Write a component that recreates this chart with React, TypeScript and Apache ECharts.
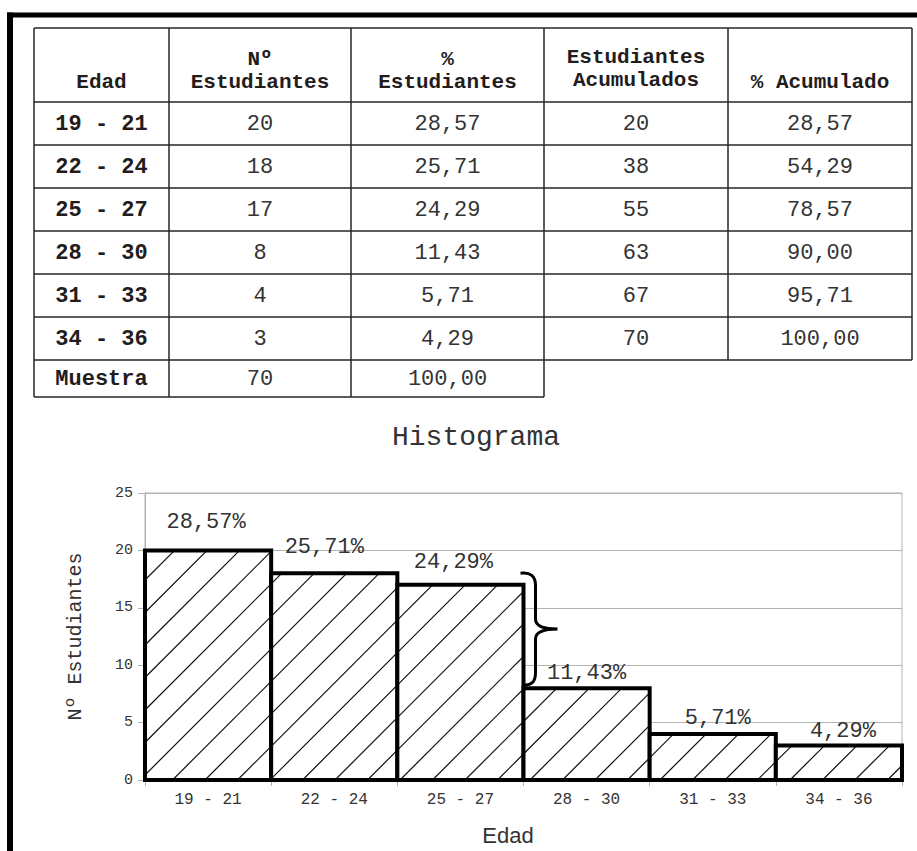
import React, { useEffect, useRef } from 'react';
import * as echarts from 'echarts';

// ---------- data ----------
const ranges = ['19 - 21', '22 - 24', '25 - 27', '28 - 30', '31 - 33', '34 - 36'];
const counts = [20, 18, 17, 8, 4, 3];
const pcts = [28.57, 25.71, 24.29, 11.43, 5.71, 4.29];
const cumCounts = [20, 38, 55, 63, 67, 70];
const cumPcts = [28.57, 54.29, 78.57, 90.0, 95.71, 100.0];
const sampleLabel = 'Muestra';
const sampleTotal = 70;
const sampleTotalPct = 100.0;
const headers = [['Edad'], ['Nº', 'Estudiantes'], ['%', 'Estudiantes'], ['Estudiantes', 'Acumulados'], ['% Acumulado']];
const braceSpan = [18, 8.3]; // value range covered by the brace annotation
const braceAfterIndex = 2;

// ---------- layout constants ----------
const W = 917;
const H = 851;
const MONO = '"Liberation Mono", "DejaVu Sans Mono", monospace';
const SANS = '"Liberation Sans", Arial, sans-serif';
const colX = [34, 169, 351, 544, 728, 912];
const rowY = [28, 102, 145, 188, 231, 274, 317, 360, 397];
const labelNudge = [
  [-2, 28],
  [-10, 26],
  [-7, 22],
  [0, 15],
  [5, 16],
  [4, 14],
];

const fmt = (v: number) => v.toFixed(2).replace('.', ',');

function buildTable(): any[] {
  const els: any[] = [];
  const lineStyle = { stroke: '#262626', lineWidth: 1.5 };
  const fullRight = colX[colX.length - 1];
  for (let r = 0; r < rowY.length; r++) {
    const right = r === rowY.length - 1 ? colX[3] : fullRight;
    els.push({ type: 'line', shape: { x1: colX[0], y1: rowY[r], x2: right, y2: rowY[r] }, style: lineStyle });
  }
  for (let c = 0; c < colX.length; c++) {
    const bottom = c <= 3 ? rowY[rowY.length - 1] : rowY[rowY.length - 2];
    els.push({ type: 'line', shape: { x1: colX[c], y1: rowY[0], x2: colX[c], y2: bottom }, style: lineStyle });
  }
  const cx = (c: number) => (colX[c] + colX[c + 1]) / 2;
  const txt = (text: string, x: number, y: number, bold: boolean, size = 22) => ({
    type: 'text',
    style: {
      text,
      x,
      y,
      align: 'center',
      verticalAlign: 'middle',
      fontFamily: MONO,
      fontSize: size,
      lineHeight: size,
      fontWeight: bold ? 'bold' : 'normal',
      fill: bold ? '#221c1c' : '#333333',
    },
  });
  headers.forEach((lines, c) => {
    if (lines.length === 1) {
      els.push(txt(lines[0], cx(c), 82, true, 21));
    } else {
      els.push(txt(lines[0], cx(c), c === 3 ? 57 : 59, true, 21));
      els.push(txt(lines[1], cx(c), c === 3 ? 80 : 82, true, 21));
    }
  });
  ranges.forEach((rg, i) => {
    const y = (rowY[i + 1] + rowY[i + 2]) / 2 + 1;
    els.push(txt(rg, cx(0), y, true));
    els.push(txt(String(counts[i]), cx(1), y, false));
    els.push(txt(fmt(pcts[i]), cx(2), y, false));
    els.push(txt(String(cumCounts[i]), cx(3), y, false));
    els.push(txt(fmt(cumPcts[i]), cx(4), y, false));
  });
  const ys = (rowY[7] + rowY[8]) / 2 + 1;
  els.push(txt(sampleLabel, cx(0), ys, true));
  els.push(txt(String(sampleTotal), cx(1), ys, false));
  els.push(txt(fmt(sampleTotalPct), cx(2), ys, false));
  return els;
}

export default function App() {
  const ref = useRef<HTMLDivElement>(null);
  useEffect(() => {
    document.body.style.margin = '0';
    if (!ref.current) return;
    const chart = echarts.init(ref.current, null, { renderer: 'svg', width: W, height: H });

    const option: any = {
      animation: false,
      backgroundColor: '#ffffff',
      grid: {
        left: 145,
        right: W - 902,
        top: 493,
        bottom: H - 780,
        show: true,
        borderColor: '#b3b3b3',
        borderWidth: 1,
        backgroundColor: 'transparent',
      },
      xAxis: {
        type: 'category',
        data: ranges,
        boundaryGap: true,
        axisLine: { show: true, lineStyle: { color: '#b3b3b3', width: 1 } },
        axisTick: { show: true, length: 6, lineStyle: { color: '#b3b3b3' } },
        axisLabel: { margin: 12, fontFamily: MONO, fontSize: 16, color: '#333333' },
        splitLine: { show: false },
      },
      yAxis: {
        type: 'value',
        min: 0,
        max: 25,
        interval: 5,
        name: 'Nº Estudiantes',
        nameLocation: 'middle',
        nameGap: 60,
        nameRotate: 90,
        nameTextStyle: { fontFamily: MONO, fontSize: 20, color: '#333333' },
        axisLine: { show: true, lineStyle: { color: '#b3b3b3', width: 1 } },
        axisTick: { show: true, length: 7, lineStyle: { color: '#b3b3b3' } },
        axisLabel: { margin: 12, fontFamily: MONO, fontSize: 15, color: '#333333' },
        splitLine: { show: true, lineStyle: { color: '#b3b3b3', width: 1 } },
      },
      series: [
        {
          type: 'custom',
          clip: false,
          encode: { x: 0, y: 1 },
          data: counts.map((v, i) => [i, v]),
          renderItem: (params: any, api: any) => {
            const i = params.dataIndex;
            const v = api.value(1);
            const base = api.coord([i, 0]);
            const top = api.coord([i, v]);
            const bw = api.size([1, 0])[0];
            const x0 = base[0] - bw / 2;
            const x1 = base[0] + bw / 2;
            const y0 = top[1];
            const y1 = base[1];
            const children: any[] = [];
            children.push({
              type: 'rect',
              shape: { x: x0, y: y0, width: x1 - x0, height: y1 - y0 },
              style: { fill: '#ffffff' },
            });
            const s = 32.5;
            const off = 10;
            const cStart = Math.ceil((x0 + y0 - off) / s) * s + off;
            for (let c = cStart; c < x1 + y1; c += s) {
              const xa = Math.max(x0, c - y1);
              const xb = Math.min(x1, c - y0);
              if (xb > xa + 0.5) {
                children.push({
                  type: 'line',
                  shape: { x1: xa, y1: c - xa, x2: xb, y2: c - xb },
                  style: { stroke: '#111111', lineWidth: 1.2 },
                });
              }
            }
            children.push({
              type: 'rect',
              shape: { x: x0, y: y0, width: x1 - x0, height: y1 - y0 },
              style: { fill: 'none', stroke: '#000000', lineWidth: 4 },
            });
            const nudge = labelNudge[i] || [0, 16];
            children.push({
              type: 'text',
              style: {
                text: fmt(pcts[i]) + '%',
                x: base[0] + nudge[0],
                y: y0 - nudge[1],
                align: 'center',
                verticalAlign: 'middle',
                fontFamily: MONO,
                fontSize: 22,
                fill: '#333333',
              },
            });
            return { type: 'group', children };
          },
          z: 3,
        },
        {
          type: 'custom',
          clip: false,
          encode: { x: 0, y: 1 },
          data: [[braceAfterIndex, braceSpan[0], braceSpan[1]]],
          renderItem: (params: any, api: any) => {
            const idx = api.value(0);
            const pTop = api.coord([idx, api.value(1)]);
            const pBot = api.coord([idx, api.value(2)]);
            const bw = api.size([1, 0])[0];
            const xb = pTop[0] + bw / 2;
            const yT = pTop[1];
            const yB = pBot[1];
            const yM = (yT + yB) / 2;
            const sx = xb + 12;
            const tx = xb + 34;
            const d =
              `M ${xb - 3} ${yT} Q ${sx} ${yT - 2} ${sx} ${yT + 12} ` +
              `L ${sx} ${yM - 10} Q ${sx} ${yM} ${tx} ${yM} ` +
              `Q ${sx} ${yM} ${sx} ${yM + 10} ` +
              `L ${sx} ${yB - 12} Q ${sx} ${yB + 2} ${xb - 1} ${yB}`;
            return {
              type: 'path',
              shape: { pathData: d },
              style: { fill: 'none', stroke: '#000000', lineWidth: 3 },
            };
          },
          z: 4,
        },
      ],
      graphic: [
        { type: 'rect', shape: { x: 7, y: 12.5, width: W - 7, height: 5 }, style: { fill: '#000000' }, z: 10 },
        { type: 'rect', shape: { x: 7, y: 12.5, width: 6, height: H - 12.5 }, style: { fill: '#000000' }, z: 10 },
        ...buildTable(),
        {
          type: 'text',
          style: {
            text: 'Histograma',
            x: 476,
            y: 437,
            align: 'center',
            verticalAlign: 'middle',
            fontFamily: MONO,
            fontSize: 28,
            fill: '#333333',
          },
        },
        {
          type: 'text',
          style: {
            text: 'Edad',
            x: 508,
            y: 835,
            align: 'center',
            verticalAlign: 'middle',
            fontFamily: SANS,
            fontSize: 22,
            fill: '#333333',
          },
        },
      ],
    };
    chart.setOption(option);
    return () => chart.dispose();
  }, []);
  return <div ref={ref} style={{ width: W, height: H }} />;
}
